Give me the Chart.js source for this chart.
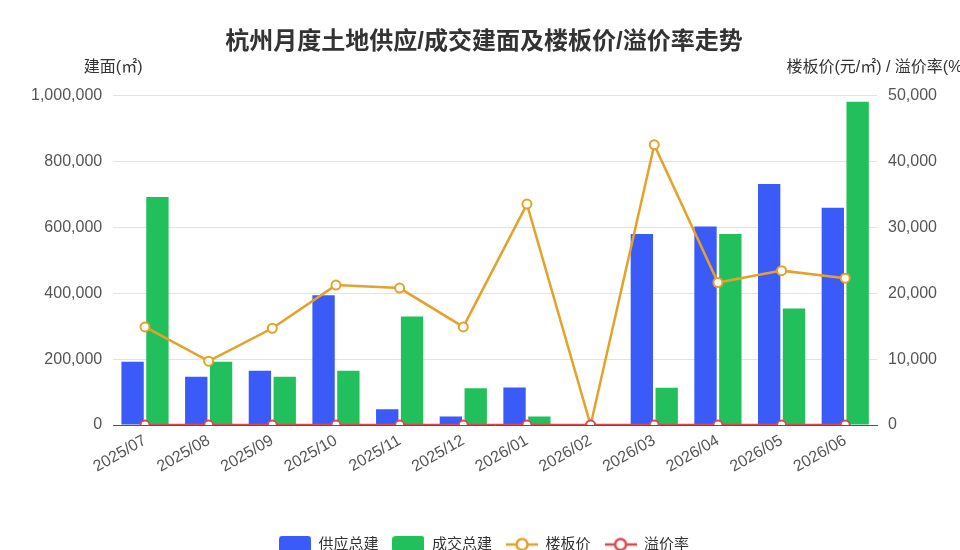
<!DOCTYPE html>
<html>
<head>
<meta charset="utf-8">
<script src="https://cdn.jsdelivr.net/npm/chart.js@4/dist/chart.umd.min.js"></script>
<style>
  html, body { margin: 0; padding: 0; background: #fff; overflow: hidden; }
  #wrap { width: 960px; height: 562px; position: relative; }
</style>
</head>
<body>
<div id="wrap"><canvas id="landChart"></canvas></div>
<script>
// months
var months = ["2025/07", "2025/08", "2025/09", "2025/10", "2025/11", "2025/12",
  "2026/01", "2026/02", "2026/03", "2026/04", "2026/05", "2026/06"];
// 建面 (㎡)
var supplyArea = [192000, 147000, 165000, 394000, 48000, 26000, 114000, 0, 580000, 603000, 732000, 660000];
var dealArea = [693000, 192000, 147000, 165000, 330000, 112000, 26000, 0, 113000, 580000, 354000, 982000];
// 楼板价 (元/㎡) and 溢价率 (%)
var floorPrice = [14900, 9700, 14700, 21250, 20800, 14900, 33550, 0, 42550, 21650, 23450, 22300];
var premiumRate = [0, 0, 0, 0, 0, 0, 0, 0, 0, 0, 0, 0];
// axis ticks
var leftTicks = [0, 200000, 400000, 600000, 800000, 1000000];
var rightTicks = [0, 10000, 20000, 30000, 40000, 50000];

var FONT = "'Liberation Sans', 'Noto Sans CJK SC', sans-serif";

function lineIcon(color) {
  var c = document.createElement("canvas");
  c.width = 32; c.height = 16;
  var g = c.getContext("2d");
  g.strokeStyle = color;
  g.lineWidth = 2.5;
  g.beginPath(); g.moveTo(0, 8); g.lineTo(32, 8); g.stroke();
  g.fillStyle = "#fff";
  g.beginPath(); g.arc(16, 8, 5.5, 0, Math.PI * 2); g.fill(); g.stroke();
  return c;
}
function boxIcon(color) {
  var c = document.createElement("canvas");
  c.width = 32; c.height = 18;
  var g = c.getContext("2d");
  g.fillStyle = color;
  g.beginPath(); g.roundRect(0, 0, 32, 18, 4); g.fill();
  return c;
}

var icons = [boxIcon("#3A5BF8"), boxIcon("#22C05C"), lineIcon("#E5A12A"), lineIcon("#E0474C")];

// axis titles drawn on top of each y axis
var axisTitles = {
  id: "axisTitles",
  afterDraw: function (chart) {
    var ctx = chart.ctx, area = chart.chartArea;
    ctx.save();
    ctx.font = "16px " + FONT;
    ctx.fillStyle = "#333";
    ctx.textAlign = "center";
    ctx.textBaseline = "middle";
    ctx.fillText("建面(㎡)", area.left, area.top - 28);
    ctx.fillText("楼板价(元/㎡) / 溢价率(%)", area.right, area.top - 28);
    ctx.restore();
  }
};

function fmt(v) { return Number(v).toLocaleString("en-US"); }

Chart.defaults.font.family = FONT;

new Chart("landChart", {
  type: "bar",
  data: {
    labels: months,
    datasets: [
      {
        label: "供应总建",
        data: supplyArea,
        backgroundColor: "#3A5BF8",
        yAxisID: "y",
        order: 2,
      },
      {
        label: "成交总建",
        data: dealArea,
        backgroundColor: "#22C05C",
        yAxisID: "y",
        order: 3,
      },
      {
        type: "line",
        label: "楼板价",
        data: floorPrice,
        borderColor: "#E5A12A",
        backgroundColor: "#fff",
        borderWidth: 2.5,
        pointRadius: 4.5,
        pointBorderWidth: 2,
        pointBackgroundColor: "#fff",
        tension: 0,
        yAxisID: "y1",
        order: 1,
      },
      {
        type: "line",
        label: "溢价率",
        data: premiumRate,
        borderColor: "#E0474C",
        backgroundColor: "#fff",
        borderWidth: 2.5,
        pointRadius: 4.5,
        pointBorderWidth: 2,
        pointBackgroundColor: "#fff",
        tension: 0,
        yAxisID: "y1",
        order: 0,
      },
    ],
  },
  options: {
    responsive: true,
    maintainAspectRatio: false,
    animation: false,
    layout: { padding: { left: 20, right: 12, top: 0, bottom: 0 } },
    datasets: { bar: { categoryPercentage: 0.78, barPercentage: 0.9 } },
    plugins: {
      title: {
        display: true,
        text: "杭州月度土地供应/成交建面及楼板价/溢价率走势",
        color: "#333",
        font: { size: 24, weight: "bold" },
        padding: { top: 28, bottom: 39 },
      },
      legend: {
        position: "bottom",
        labels: {
          usePointStyle: true,
          pointStyleWidth: 32,
          padding: 14,
          color: "#333",
          font: { size: 15 },
          sort: function (a, b) { return a.datasetIndex - b.datasetIndex; },
          generateLabels: function (chart) {
            var items = Chart.defaults.plugins.legend.labels.generateLabels(chart);
            items.forEach(function (it) { it.pointStyle = icons[it.datasetIndex]; });
            return items;
          },
        },
      },
      tooltip: { enabled: false },
    },
    scales: {
      x: {
        grid: { display: false, drawTicks: false },
        border: { display: true, color: "#555" },
        ticks: { color: "#555", font: { size: 16 }, minRotation: 30, maxRotation: 30, padding: 6 },
        title: { display: true, text: "", padding: { top: 0, bottom: 26 } },
      },
      y: {
        position: "left",
        min: 0,
        max: 1000000,
        afterBuildTicks: function (axis) { axis.ticks = leftTicks.map(function (v) { return { value: v }; }); },
        grid: { color: "#e3e3e3", drawTicks: false },
        border: { display: false },
        ticks: { color: "#555", font: { size: 16 }, padding: 11, callback: fmt },
      },
      y1: {
        position: "right",
        min: 0,
        max: 50000,
        afterBuildTicks: function (axis) { axis.ticks = rightTicks.map(function (v) { return { value: v }; }); },
        grid: { display: false, drawTicks: false },
        border: { display: false },
        ticks: { color: "#555", font: { size: 16 }, padding: 11, callback: fmt },
      },
    },
  },
  plugins: [axisTitles],
});
</script>
</body>
</html>
